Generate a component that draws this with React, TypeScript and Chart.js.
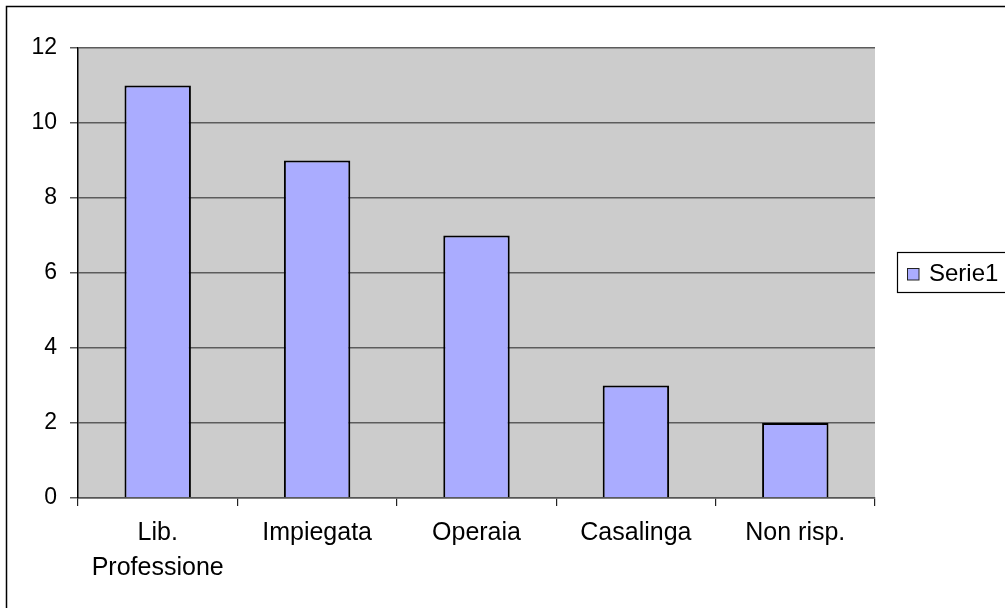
import React, { useEffect, useRef } from "react";
import { Chart, registerables } from "chart.js";

Chart.register(...registerables);

const categories: (string | string[])[] = [["Lib.", "Professione"], "Impiegata", "Operaia", "Casalinga", "Non risp."];
const serie1: number[] = [11, 9, 7, 3, 2];
const seriesLabel = "Serie1";
const yMin = 0;
const yMax = 12;
const yStep = 2;

const FONT = "'Liberation Sans', Arial, sans-serif";
const BAR_COLOR = "#AAACFF";

const framePlugin = {
  id: "framePlugin",
  beforeDraw(chart: any) {
    const { ctx, chartArea } = chart;
    ctx.save();
    ctx.fillStyle = "#ffffff";
    ctx.fillRect(0, 0, chart.width, chart.height);
    ctx.fillStyle = "#CCCCCC";
    ctx.fillRect(chartArea.left, chartArea.top, chartArea.right - chartArea.left, chartArea.bottom - chartArea.top);
    ctx.strokeStyle = "#000";
    ctx.lineWidth = 1.5;
    ctx.beginPath();
    ctx.moveTo(6.5, chart.height + 2);
    ctx.lineTo(6.5, 6.5);
    ctx.lineTo(chart.width + 2, 6.5);
    ctx.stroke();
    ctx.restore();
  },
  afterDraw(chart: any) {
    const { ctx } = chart;
    const ds = chart.data.datasets[0];
    ctx.save();
    ctx.strokeStyle = "#000";
    ctx.lineWidth = 1.2;
    ctx.strokeRect(897.5, 252.5, 200, 40);
    ctx.fillStyle = ds.backgroundColor;
    ctx.fillRect(907, 268, 12, 12);
    ctx.strokeStyle = "#222";
    ctx.lineWidth = 1;
    ctx.strokeRect(907.5, 268.5, 11.5, 11.5);
    ctx.fillStyle = "#000";
    ctx.font = `24px ${FONT}`;
    ctx.textBaseline = "alphabetic";
    ctx.textAlign = "left";
    ctx.fillText(ds.label, 929, 281);
    ctx.restore();
  },
};

export default function App() {
  const ref = useRef<HTMLCanvasElement | null>(null);
  useEffect(() => {
    if (!ref.current) return;
    const chart = new Chart(ref.current, {
      type: "bar",
      data: {
        labels: categories,
        datasets: [
          {
            label: seriesLabel,
            data: serie1,
            backgroundColor: BAR_COLOR,
            borderColor: "#000",
            borderWidth: 2,
            barPercentage: 0.4167,
            categoryPercentage: 1,
          },
        ],
      },
      options: {
        responsive: false,
        animation: false,
        layout: { padding: { top: 48, right: 130, left: 0, bottom: 0 } },
        plugins: {
          legend: { display: false },
          tooltip: { enabled: false },
        },
        scales: {
          x: {
            grid: {
              drawOnChartArea: false,
              drawTicks: true,
              tickLength: 8,
              color: "#222",
              lineWidth: 1.2,
              offset: true,
            },
            border: { display: true, color: "#555", width: 1.5 },
            ticks: {
              color: "#000",
              font: { family: FONT, size: 25, lineHeight: 1.42 },
              padding: 9,
              maxRotation: 0,
              autoSkip: false,
            },
            afterFit: (s: any) => {
              s.height = 110;
            },
          },
          y: {
            min: yMin,
            max: yMax,
            grid: {
              color: "#5c5c5c",
              lineWidth: 1.5,
              tickLength: 8,
              drawTicks: true,
            },
            border: { display: true, color: "#000", width: 1.5 },
            ticks: {
              stepSize: yStep,
              color: "#000",
              font: { family: FONT, size: 23 },
              padding: 13,
            },
            afterFit: (s: any) => {
              s.width = 78;
            },
          },
        },
      },
      plugins: [framePlugin],
    });
    return () => chart.destroy();
  }, []);
  return (
    <div style={{ position: "absolute", left: 0, top: 0, width: 1005, height: 608, overflow: "hidden", background: "#fff" }}>
      <canvas ref={ref} width={1005} height={608} style={{ width: 1005, height: 608, display: "block" }} />
    </div>
  );
}
